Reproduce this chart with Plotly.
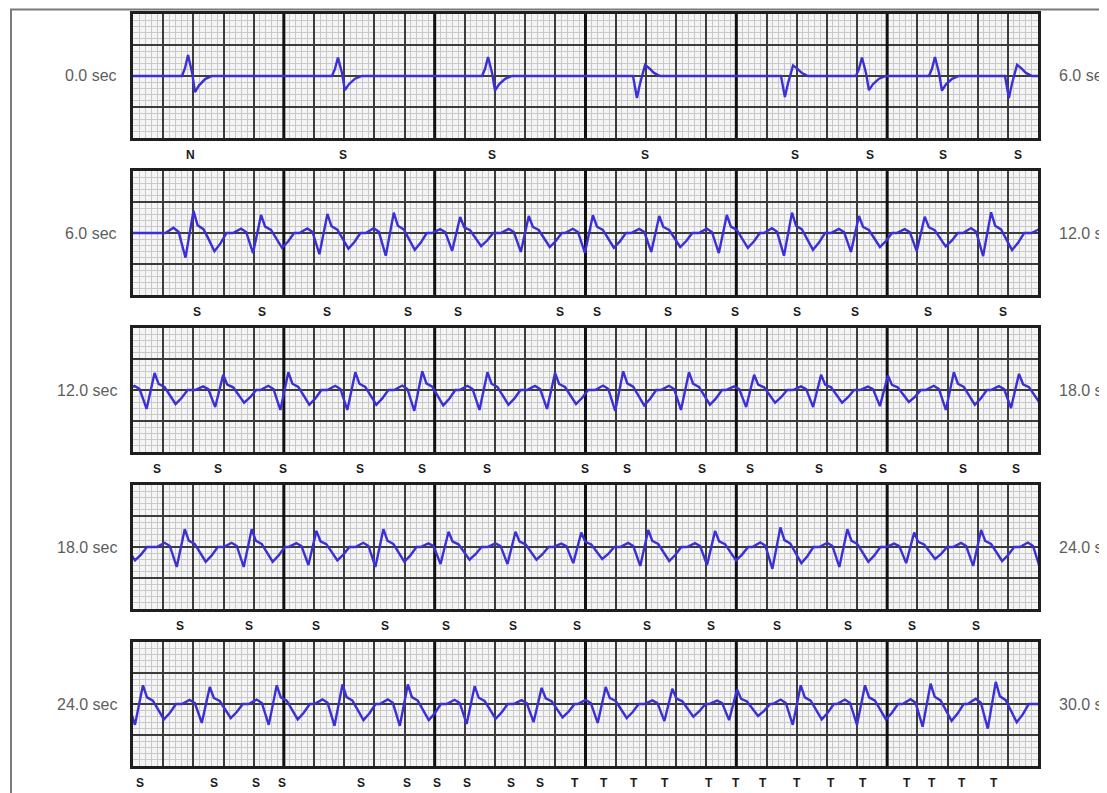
import plotly.graph_objects as go

W, H = 1107, 793
PAGE_OFFSET = 8  # browser body margin
ROW_SECONDS = 6.0

# ---------------- data ----------------
# beat fiducial times (s), morphology and relative amplitude
row1_times = [0.365, 1.359, 2.354, 3.368, 4.349, 4.833, 5.317, 5.834]
row1_kinds = ["up", "up", "up", "inv", "inv", "up", "up", "inv"]
row1_scale = [1.0, 0.88, 0.9, 1.0, 0.95, 0.88, 0.9, 1.0]

row2_times = [6.401, 6.849, 7.289, 7.729, 8.169, 8.624, 9.049, 9.489, 9.937,
              10.369, 10.813, 11.249, 11.689]
row2_scale = [1.3, 1.06, 1.12, 1.2, 0.94, 1.0, 1.05, 1.0, 1.06, 1.2, 1.0, 0.96, 1.22]

row3_times = [12.143, 12.598, 13.030, 13.474, 13.918, 14.350, 14.798, 15.250,
              15.686, 16.118, 16.562, 17.005, 17.442, 17.874]
row3_scale = [1.0, 0.9, 1.05, 1.05, 1.1, 1.05, 1.0, 1.1, 1.05, 0.9, 0.9, 0.85, 1.05, 0.95]

row4_times = [18.343, 18.787, 19.216, 19.660, 20.092, 20.536, 20.972, 21.416,
              21.859, 22.292, 22.736, 23.179, 23.623]
row4_scale = [1.05, 1.05, 0.95, 1.05, 0.9, 0.9, 0.85, 1.0, 0.95, 1.15, 1.05, 0.85, 1.0]

row5_times = [24.066, 24.509, 24.953, 25.389, 25.822, 26.265, 26.709, 27.134,
              27.576, 28.005, 28.427, 28.853, 29.288, 29.720]
row5_scale = [1.1, 1.0, 1.1, 1.15, 1.15, 1.05, 0.95, 1.0, 0.9, 0.85, 1.1, 1.1, 1.2, 1.3]

# beat waveform shapes read from the strips (offset s, amplitude mV)
up_dt = [-0.040, -0.020, 0.0, 0.027, 0.046, 0.073, 0.113, 0.159]
up_mv = [0.0, 0.13, 0.34, 0.05, -0.26, -0.15, -0.05, 0.0]
inv_dt = [-0.053, -0.027, -0.007, 0.027, 0.053, 0.086, 0.126]
inv_mv = [0.0, -0.355, -0.13, 0.18, 0.13, 0.05, 0.0]
tach_dt = [-0.186, -0.133, -0.099, -0.053, 0.0, 0.027, 0.066, 0.093, 0.139, 0.179, 0.219]
tach_mv = [0.0, 0.065, 0.016, -0.306, 0.274, 0.097, 0.048, -0.048, -0.226, -0.129, 0.0]

# beat annotations (time s, label)
ann_row1_t = [0.378, 1.392, 2.380, 3.395, 4.389, 4.886, 5.370, 5.868]
ann_row1_l = ["N", "S", "S", "S", "S", "S", "S", "S"]
ann_row2_t = [6.424, 6.855, 7.286, 7.823, 8.155, 8.831, 9.076, 9.547, 9.991,
              10.402, 10.787, 11.271, 11.768]
ann_row2_l = ["S"] * 13
ann_row3_t = [12.159, 12.564, 12.995, 13.505, 13.916, 14.347, 14.997, 15.275,
              15.773, 16.091, 16.548, 16.973, 17.503, 17.854]
ann_row3_l = ["S"] * 14
ann_row4_t = [18.312, 18.769, 19.213, 19.671, 20.075, 20.519, 20.944, 21.408,
              21.832, 22.270, 22.740, 23.165, 23.589]
ann_row4_l = ["S"] * 13
ann_row5_t = [24.046, 24.537, 24.815, 24.988, 25.512, 25.817, 26.016, 26.215,
              26.506, 26.698, 26.930, 27.123, 27.322, 27.527, 27.819, 27.998,
              28.177, 28.402, 28.628, 28.840, 29.132, 29.298, 29.497, 29.709]
ann_row5_l = ["S"] * 10 + ["T"] * 14

row_start_labels = ["0.0 sec", "6.0 sec", "12.0 sec", "18.0 sec", "24.0 sec"]
row_end_labels = ["6.0 sec", "12.0 sec", "18.0 sec", "24.0 sec", "30.0 sec"]

# ---------------- build the signal ----------------
beats = []
for t, k, s in zip(row1_times, row1_kinds, row1_scale):
    beats.append((t, k, s))
for times, scales in [(row2_times, row2_scale), (row3_times, row3_scale),
                      (row4_times, row4_scale), (row5_times, row5_scale)]:
    for t, s in zip(times, scales):
        beats.append((t, "tach", s))
beats.sort(key=lambda b: b[0])

templates = {"up": (up_dt, up_mv), "inv": (inv_dt, inv_mv), "tach": (tach_dt, tach_mv)}
sig_t = [0.0]
sig_v = [0.0]
for t, k, s in beats:
    dts, mvs = templates[k]
    for dt, mv in zip(dts, mvs):
        sig_t.append(t + dt)
        sig_v.append(mv * s)
sig_t.append(30.0)
sig_v.append(0.0)

ann_t = [ann_row1_t, ann_row2_t, ann_row3_t, ann_row4_t, ann_row5_t]
ann_l = [ann_row1_l, ann_row2_l, ann_row3_l, ann_row4_l, ann_row5_l]

# ---------------- layout geometry (page pixels) ----------------
X_LEFT, X_RIGHT = 133, 1038
ROW_TOP = [14, 171, 328, 485, 642]
ROW_H = 124


def px_x(p):
    return (p - PAGE_OFFSET) / W


def px_y(p):
    return 1 - (p - PAGE_OFFSET) / H


fig = go.Figure()
layout = dict(
    width=W, height=H,
    margin=dict(l=0, r=0, t=0, b=0),
    paper_bgcolor="white",
    plot_bgcolor="#f5f5f5",
    showlegend=False,
    annotations=[],
    shapes=[],
)

for i in range(5):
    n = "" if i == 0 else str(i + 1)
    x0 = i * ROW_SECONDS
    x1 = x0 + ROW_SECONDS
    top, bot = ROW_TOP[i], ROW_TOP[i] + ROW_H
    xs, ys = [], []
    for t, v in zip(sig_t, sig_v):
        if x0 - 0.4 <= t <= x1 + 0.4:
            xs.append(t)
            ys.append(v)
    fig.add_trace(go.Scatter(
        x=xs, y=ys, mode="lines",
        line=dict(color="#3b30d6", width=2.4),
        xaxis="x" + n, yaxis="y" + n, hoverinfo="skip",
    ))
    layout["xaxis" + n] = dict(
        domain=[px_x(X_LEFT), px_x(X_RIGHT)],
        range=[x0, x1], anchor="y" + n,
        tick0=0, dtick=0.2, showgrid=True, gridcolor="#3c3c3c", gridwidth=1.5,
        minor=dict(dtick=0.04, showgrid=True, gridcolor="#c8c8c8", gridwidth=1),
        showticklabels=False, ticks="", zeroline=False,
        showline=True, mirror=True, linecolor="#1e1e1e", linewidth=2.5,
        fixedrange=True,
    )
    layout["yaxis" + n] = dict(
        domain=[px_y(bot), px_y(top)],
        range=[-1, 1], anchor="x" + n,
        tick0=0, dtick=0.5, showgrid=True, gridcolor="#3c3c3c", gridwidth=1.5,
        minor=dict(dtick=0.1, showgrid=True, gridcolor="#c8c8c8", gridwidth=1),
        showticklabels=False, ticks="", zeroline=False,
        showline=True, mirror=True, linecolor="#1e1e1e", linewidth=2.5,
        fixedrange=True,
    )
    for k in range(1, int(ROW_SECONDS)):
        layout["shapes"].append(dict(
            type="line", xref="x" + n, yref="y" + n,
            x0=x0 + k, x1=x0 + k, y0=-1, y1=1,
            line=dict(color="#111111", width=3), layer="between",
        ))
    yc = px_y(top + ROW_H / 2)
    layout["annotations"].append(dict(
        text=row_start_labels[i], xref="paper", yref="paper",
        x=px_x(119), y=yc, xanchor="right", yanchor="middle", showarrow=False,
        font=dict(family="Liberation Sans, Arial", size=16, color="#5e5e5e"),
    ))
    layout["annotations"].append(dict(
        text=row_end_labels[i], xref="paper", yref="paper",
        x=px_x(1057), y=yc, xanchor="left", yanchor="middle", showarrow=False,
        font=dict(family="Liberation Sans, Arial", size=16, color="#5e5e5e"),
    ))
    for t, lab in zip(ann_t[i], ann_l[i]):
        layout["annotations"].append(dict(
            text="<b>" + lab + "</b>", xref="x" + n, yref="paper",
            x=t, y=px_y(bot + 17), xanchor="center", yanchor="middle",
            showarrow=False,
            font=dict(family="Liberation Sans, Arial", size=12, color="#1a1a1a"),
        ))

# outer frame
layout["shapes"].append(dict(
    type="rect", xref="paper", yref="paper",
    x0=px_x(11), x1=1.2, y0=-0.2, y1=1 - 1.5 / H,
    line=dict(color="#7a7a7a", width=2), fillcolor="rgba(0,0,0,0)", layer="above",
))

fig.update_layout(**layout)
fig.write_html("out.html")
